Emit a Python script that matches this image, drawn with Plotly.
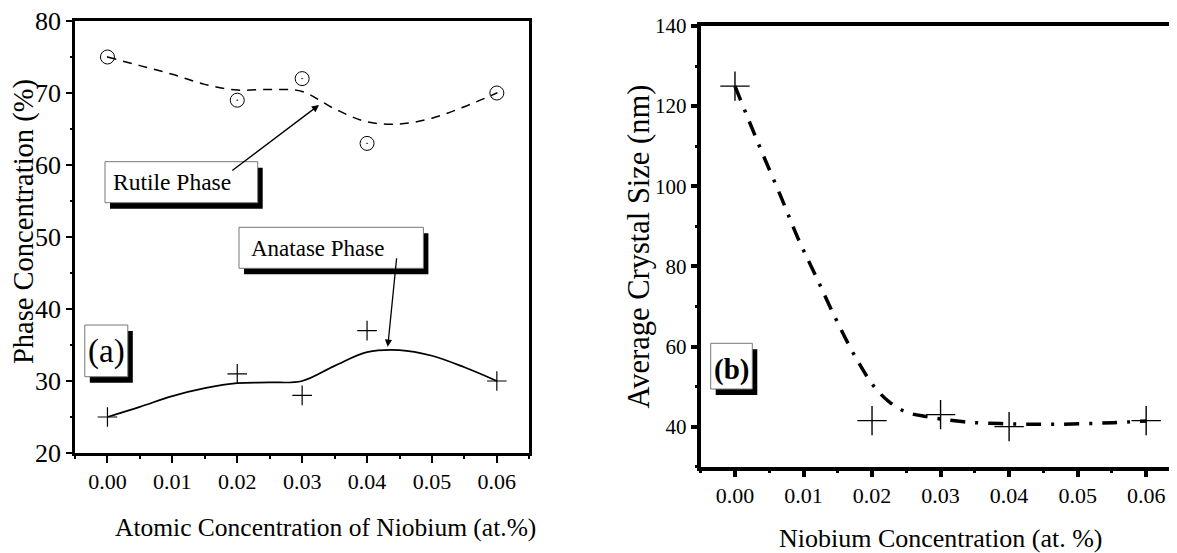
import plotly.graph_objects as go

# ---------------- data ----------------
nb_conc = [0.00, 0.02, 0.03, 0.04, 0.06]
rutile = [75, 69, 72, 63, 70]
anatase = [25, 31, 28, 37, 30]
crystal_size = [125, 41.5, 43, 40, 41.5]

fit_x = [0, 0.005, 0.01, 0.015, 0.02, 0.025, 0.03, 0.035, 0.04, 0.045, 0.05, 0.055, 0.06]
rutile_fit = [75, 73.8, 72.6, 71.2, 70.4, 70.5, 70.2, 67.8, 66.0, 65.7, 66.5, 68.1, 70.0]
anatase_fit = [25, 26.4, 27.9, 29.0, 29.7, 29.8, 30.0, 32.1, 34.0, 34.3, 33.5, 31.9, 30.0]

crystal_fit_x = [0, 0.0034, 0.0067, 0.0092, 0.0116, 0.0148, 0.0177, 0.0203, 0.0225,
                 0.0249, 0.0279, 0.0334, 0.04, 0.047, 0.0552, 0.06]
crystal_fit_y = [125, 110.7, 97.4, 87.0, 78.3, 66.6, 57.0, 50.0, 46.2,
                 43.7, 42.5, 41.2, 40.7, 40.6, 41.0, 41.4]

left_ylabel = "Phase Concentration (%)"
left_xlabel = "Atomic Concentration of Niobium (at.%)"
right_ylabel = "Average Crystal Size (nm)"
right_xlabel = "Niobium Concentration (at. %)"

FONT = "Liberation Serif, Times New Roman, serif"
OFF = 8  # page body margin
W, H = 1177 - OFF, 553 - OFF


def px(x):
    return (x - OFF) / W


def py(y):
    return 1 - (y - OFF) / H


fig = go.Figure()

# left panel
fig.add_trace(go.Scatter(x=fit_x, y=rutile_fit, mode="lines", line=dict(color="black", width=1.5, dash="9px,7px", shape="spline"),
                         xaxis="x", yaxis="y", hoverinfo="skip"))
fig.add_trace(go.Scatter(x=nb_conc, y=rutile, mode="markers",
                         marker=dict(symbol="circle-open-dot", size=14, color="black", line=dict(width=1)),
                         xaxis="x", yaxis="y"))
fig.add_trace(go.Scatter(x=fit_x, y=anatase_fit, mode="lines", line=dict(color="black", width=1.7, shape="spline"),
                         xaxis="x", yaxis="y", hoverinfo="skip"))
fig.add_trace(go.Scatter(x=nb_conc, y=anatase, mode="markers",
                         marker=dict(symbol="cross-thin-open", size=14, color="black", line=dict(width=1.2, color="black")),
                         xaxis="x", yaxis="y"))

# right panel
fig.add_trace(go.Scatter(x=crystal_fit_x, y=crystal_fit_y, mode="lines",
                         line=dict(color="black", width=3.5, dash="15px,10px,3px,10px", shape="spline"),
                         xaxis="x2", yaxis="y2", hoverinfo="skip"))
fig.add_trace(go.Scatter(x=nb_conc, y=crystal_size, mode="markers",
                         marker=dict(symbol="cross-thin-open", size=21, color="black", line=dict(width=1.4, color="black")),
                         xaxis="x2", yaxis="y2"))

axis_common = dict(showgrid=False, zeroline=False, color="black", ticks="outside", automargin=False,
                   ticklabeloverflow="allow")

fig.update_layout(
    template="none",
    width=W, height=H, margin=dict(l=0, r=0, t=0, b=0, pad=0),
    paper_bgcolor="white", plot_bgcolor="white", showlegend=False,
    font=dict(family=FONT, color="black"),
    xaxis=dict(**axis_common, domain=[px(75), px(529.3)], range=[-0.005, 0.065], tick0=0, dtick=0.01,
               tickformat=".2f", ticklen=7, tickwidth=2.3, showline=True, linewidth=2.6, linecolor="black",
               mirror=True, tickfont=dict(size=22, family=FONT),
               minor=dict(ticks="outside", dtick=0.005, ticklen=3.5, tickwidth=2.3, tickcolor="black"),
               anchor="y"),
    yaxis=dict(**axis_common, domain=[py(453), py(21)], range=[20, 80], tick0=0, dtick=10,
               ticklen=6, tickwidth=2.3, showline=True, linewidth=2.6, linecolor="black",
               mirror=True, tickfont=dict(size=26, family=FONT),
               minor=dict(ticks="outside", dtick=5, ticklen=2.5, tickwidth=2, tickcolor="black"),
               anchor="x"),
    xaxis2=dict(**axis_common, domain=[px(700.7), 1.0], range=[-0.005, 0.0645], tick0=0, dtick=0.01,
                tickformat=".2f", ticklen=6, tickwidth=4, showline=True, linewidth=4.2, linecolor="black",
                mirror=True, tickfont=dict(size=22, family=FONT),
                minor=dict(ticks="outside", dtick=0.005, ticklen=2.5, tickwidth=3, tickcolor="black"),
                anchor="y2"),
    yaxis2=dict(**axis_common, domain=[py(466.7), py(26)], range=[30, 140], tick0=0, dtick=20,
                ticklen=6, tickwidth=4, showline=True, linewidth=4.2, linecolor="black",
                mirror=False, tickfont=dict(size=21, family=FONT),
                minor=dict(ticks="outside", dtick=10, ticklen=2, tickwidth=3, tickcolor="black"),
                anchor="x2"),
)

# axis titles
annots = [
    dict(text=left_ylabel, x=px(24.5), y=py(221.5), textangle=-90, size=28.5),
    dict(text=left_xlabel, x=px(325), y=py(527), size=25.5),
    dict(text=right_ylabel, x=px(638), y=py(246.5), textangle=-90, size=30.5),
    dict(text=right_xlabel, x=px(940.5), y=py(538), size=26),
]
for a in annots:
    fig.add_annotation(xref="paper", yref="paper", showarrow=False, xanchor="center", yanchor="middle",
                       font=dict(family=FONT, color="black", size=a["size"]),
                       text=a["text"], x=a["x"], y=a["y"], textangle=a.get("textangle", 0))

# boxed labels (shadow + white box + text)
boxes = [
    # x0, y0, x1, y1 (pixels), text, text x, text y, size, anchor
    (105, 161.7, 257.7, 202.7, "Rutile Phase", 110.7, 182.3, 23.5, "left"),
    (239, 227.3, 423.4, 268.3, "Anatase Phase", 249.3, 248, 23, "left"),
    (84.8, 325, 127.8, 376.7, "(a)", 106.3, 351.5, 33, "center"),
    (710.7, 343.3, 752.3, 389, "<b>(b)</b>", 731.5, 369, 29, "center"),
]
for x0, y0, x1, y1, txt, tx, ty, sz, anc in boxes:
    fig.add_shape(type="rect", xref="paper", yref="paper", x0=px(x0 + 5), x1=px(x1 + 5), y0=py(y0 + 6), y1=py(y1 + 6),
                  fillcolor="black", line=dict(width=0), layer="above")
    fig.add_shape(type="rect", xref="paper", yref="paper", x0=px(x0), x1=px(x1), y0=py(y0), y1=py(y1),
                  fillcolor="white", line=dict(width=1, color="#777777"), layer="above")
    fig.add_annotation(xref="paper", yref="paper", showarrow=False, x=px(tx), y=py(ty), xanchor=anc,
                       yanchor="middle", text=txt, font=dict(family=FONT, size=sz, color="black"))

# arrows (data coordinates)
arrows = [
    (0.0326, 68.33, 0.0190, 59.07),
    (0.04319, 34.76, 0.04458, 47.26),
]
for hx, hy, tx, ty in arrows:
    fig.add_annotation(x=hx, y=hy, ax=tx, ay=ty, xref="x", yref="y", axref="x", ayref="y", text="",
                       showarrow=True, arrowhead=2, arrowsize=1.1, arrowwidth=1.3, arrowcolor="black")

fig.write_html("out.html")
